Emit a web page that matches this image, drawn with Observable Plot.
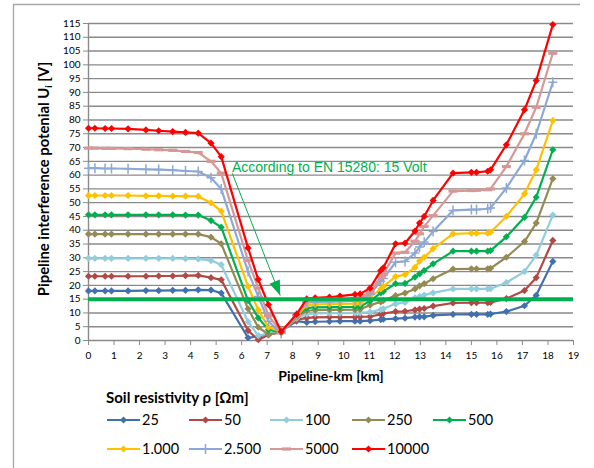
<!DOCTYPE html>
<html><head><meta charset="utf-8">
<script src="https://cdn.jsdelivr.net/npm/d3@7"></script>
<script src="https://cdn.jsdelivr.net/npm/@observablehq/plot@0.6"></script>
<style>body{margin:0;background:#fff}#chart{width:594px;height:468px}</style>
</head><body><div id="chart"></div>
<script>
// Pipeline-km positions (shared by all series)
const km = [0, 0.25, 0.65, 0.9, 1.55, 2.25, 2.75, 3.3, 3.8, 4.3, 4.8, 5.2, 6.25, 6.65, 7.05, 7.55, 8.15, 8.55, 8.88, 9.44, 9.85, 10.44, 10.64, 11.03, 11.45, 11.55, 12.03, 12.4, 12.79, 12.97, 13.15, 13.5, 14.28, 15.0, 15.2, 15.64, 15.75, 16.37, 17.08, 17.54, 18.19];

const rho25    = [18.0,18.0,18.0,18.0,18.0,18.1,18.1,18.2,18.2,18.4,18.3,17.2, 1.0,1.5,2.5,3.5, 7.0, 6.6,6.8,6.9,7.0,7.0,7.0, 7.2,7.6,7.7, 7.9,8.1,8.5,8.6,8.6,9.1, 9.5, 9.5,9.5,9.5,9.6, 10.5,12.6,16.4,28.7];
const rho50    = [23.3,23.3,23.3,23.3,23.3,23.3,23.4,23.4,23.5,23.6,22.8,22.0, 3.6,0.3,2.0,3.3, 7.5, 8.2,8.4,8.5,8.5,8.5,8.6, 8.7,9.5,9.8, 10.5,10.6,11.1,11.4,11.6,12.5, 13.6, 13.7,13.7,13.7,13.8, 15.2,18.1,22.8,36.3];
const rho100   = [29.8,29.8,29.8,29.8,29.8,29.8,29.8,29.8,29.7,29.6,29.0,27.5, 6.8,1.8,2.5,3.0, 8.0, 9.6,9.8,9.9,9.9,10.0,10.0, 10.3,11.2,11.5, 13.3,13.8,15.5,16.0,16.5,17.3, 18.7, 18.7,18.7,18.7,18.8, 21.0,25.0,31.0,45.5];
const rho250   = [38.6,38.6,38.6,38.6,38.6,38.6,38.6,38.6,38.6,38.6,37.5,35.1, 11.5,4.8,2.2,2.8, 8.5, 10.8,11.0,11.1,11.1,11.2,11.3, 12.8,14.0,14.5, 16.3,17.2,18.7,19.8,20.6,22.4, 25.9, 26.0,26.0,26.0,26.2, 30.2,35.9,42.6,58.7];
const rho500   = [45.6,45.6,45.6,45.6,45.6,45.6,45.6,45.6,45.5,45.5,43.5,41.1, 14.5,8.2,3.9,3.0, 8.8, 11.8,12.0,12.1,12.1,12.2,12.3, 14.3,17.3,17.8, 20.6,20.7,23.0,24.2,25.4,27.8, 32.4, 32.4,32.4,32.4,32.6, 37.6,44.7,52.0,69.2];
const rho1000  = [52.6,52.6,52.6,52.6,52.6,52.5,52.5,52.4,52.4,52.3,49.9,46.9, 19.6,11.1,4.8,3.2, 9.0, 12.8,13.1,13.2,13.3,13.4,13.5, 15.6,18.7,19.6, 23.2,23.9,26.5,28.8,30.2,33.3, 38.7, 38.9,38.9,38.9,39.3, 45.0,53.2,61.9,79.8];
const rho2500  = [62.5,62.5,62.4,62.4,62.3,62.1,62.0,61.8,61.5,61.3,59.0,55.0, 25.0,16.0,7.0,2.5, 9.2, 13.8,14.0,14.1,14.2,14.4,14.5, 16.8,21.5,22.5, 28.4,28.7,31.7,33.9,35.7,39.5, 47.2, 47.5,47.5,47.8,48.1, 55.3,65.3,75.0,93.7];
const rho5000  = [69.8,69.8,69.7,69.7,69.6,69.4,69.2,69.0,68.6,68.2,65.0,60.7, 29.0,19.0,9.0,3.2, 9.3, 14.3,14.6,14.8,15.0,15.3,15.5, 17.5,23.0,24.0, 31.7,32.0,36.0,38.7,41.4,45.3, 54.2, 54.4,54.5,54.7,55.0, 63.1,75.0,84.6,104.2];
const rho10000 = [77.0,77.0,76.9,76.9,76.8,76.4,76.1,75.8,75.5,75.2,71.6,66.7, 33.6,22.1,13.0,3.2, 9.5, 15.1,15.5,15.7,16.1,16.7,16.9, 19.0,25.4,26.4, 35.1,35.3,39.7,42.6,45.0,50.8, 60.7, 61.0,61.0,61.4,61.9, 71.0,83.7,94.3,114.6];

const seriesNames  = ["25","50","100","250","500","1.000","2.500","5000","10000"];
const seriesColors = ["#4170B0","#B04845","#92CDDD","#948A54","#00B050","#FFC000","#8EA8D6","#D69896","#FF0000"];
const seriesMarker = ["diamond","diamond","diamond","diamond","diamond","diamond","plus","dash","diamond"];
const seriesValues = [rho25, rho50, rho100, rho250, rho500, rho1000, rho2500, rho5000, rho10000];

const yTicks = d3.range(0, 116, 5);
const xTicks = d3.range(0, 20, 1);
const limitVolt = [15];
const noteText = [{x: 5.62, y: 62.7, label: "According to EN 15280: 15 Volt"}];
const noteArrow = [{x1: 5.63, y1: 60.7, x2: 7.51, y2: 16.3}];

const rows = seriesValues.flatMap((vals, j) => vals.map((v, i) => ({km: km[i], v, s: seriesNames[j]})));

const diamondSym = {draw(ctx){const s=3.6;ctx.moveTo(0,-s);ctx.lineTo(s,0);ctx.lineTo(0,s);ctx.lineTo(-s,0);ctx.closePath();}};
const plusSym = {draw(ctx){ctx.moveTo(-4.5,0);ctx.lineTo(4.5,0);ctx.moveTo(0,-5);ctx.lineTo(0,5);}};
const dashSym = {draw(ctx){ctx.rect(-4.5,-1.6,9,3.2);}};
const tipSym = {draw(ctx){ctx.moveTo(0,0);ctx.lineTo(-5.5,-15);ctx.lineTo(5.5,-15);ctx.closePath();}};

const grey = "#8a8a8a";
const marks = [
  Plot.ruleY(yTicks.filter(d => d > 0), {stroke: grey, strokeWidth: 1.4}),
  Plot.ruleY([0], {stroke: grey, strokeWidth: 1.4}),
  Plot.ruleX([0], {stroke: grey, strokeWidth: 1.4}),
  Plot.axisY(yTicks, {tickSize: 5, tickPadding: 3, stroke: grey, fill: "#000", fontSize: 10, label: null}),
  Plot.axisX(xTicks, {tickSize: 5, tickPadding: 6, stroke: grey, fill: "#000", fontSize: 10, label: null}),
];
seriesNames.forEach((name, j) => {
  const data = rows.filter(r => r.s === name);
  marks.push(Plot.line(data, {x: "km", y: "v", stroke: seriesColors[j], strokeWidth: 2.2}));
  const m = seriesMarker[j];
  if (m === "plus") marks.push(Plot.dot(data, {x: "km", y: "v", symbol: plusSym, stroke: seriesColors[j], strokeWidth: 1.5, r: 4}));
  else if (m === "dash") marks.push(Plot.dot(data, {x: "km", y: "v", symbol: dashSym, fill: seriesColors[j], stroke: "none", r: 4}));
  else marks.push(Plot.dot(data, {x: "km", y: "v", symbol: diamondSym, fill: seriesColors[j], stroke: "none", r: 4}));
});
marks.push(
  Plot.ruleY(limitVolt, {stroke: "#00B050", strokeWidth: 4}),
  Plot.link(noteArrow, {x1: "x1", y1: "y1", x2: "x2", y2: "y2", stroke: "#00B050", strokeWidth: 1}),
  Plot.dot(noteArrow, {x: "x2", y: "y2", symbol: tipSym, fill: "#00B050", stroke: "none", r: 4, rotate: -21.5}),
  Plot.text(noteText, {x: "x", y: "y", text: "label", textAnchor: "start", fill: "#00B050", fontSize: 14, fontFamily: "Liberation Sans"})
);

const chart = Plot.plot({
  width: 594, height: 468,
  marginLeft: 88, marginRight: 21, marginTop: 23, marginBottom: 128,
  style: {fontFamily: "Lato", fontSize: "10px", background: "#fff"},
  x: {domain: [0, 19], label: null},
  y: {domain: [0, 115], label: null},
  marks
});
document.getElementById("chart").appendChild(chart);

// Decorations: frame, axis titles, legend
const svg = d3.select(chart);
const deco = svg.append("g").attr("text-anchor", "start");
deco.append("path").attr("d", "M13.5,468 V4.5 H580").attr("fill", "none").attr("stroke", "#a6a6a6").attr("stroke-width", 1.3);
const yt = deco.append("text").attr("transform", "translate(49,179) rotate(-90)").attr("text-anchor", "middle")
  .attr("font-family", "Lato").attr("font-weight", "bold").attr("font-size", 14.8).attr("fill", "#000");
yt.append("tspan").text("Pipeline interference potenial U");
yt.append("tspan").attr("font-size", 9.5).attr("dy", 3).text("i");
yt.append("tspan").attr("dy", -3).text(" [V]");
deco.append("text").attr("x", 331).attr("y", 381).attr("text-anchor", "middle")
  .attr("font-family", "Lato").attr("font-weight", "bold").attr("font-size", 14).attr("fill", "#000").text("Pipeline-km [km]");
deco.append("text").attr("x", 106).attr("y", 403).attr("text-anchor", "start")
  .attr("font-family", "Lato").attr("font-weight", "bold").attr("font-size", 15).attr("fill", "#000").text("Soil resistivity ρ [Ωm]");
const legX = [107, 189, 270, 352, 433];
const legY = [420, 449];
const symFor = {diamond: diamondSym, plus: plusSym, dash: dashSym};
seriesNames.forEach((name, j) => {
  const col = j % 5, row = Math.floor(j / 5);
  const x0 = legX[col], y0 = legY[row];
  const g = deco.append("g").attr("transform", `translate(${x0},${y0})`);
  g.append("line").attr("x1", 0).attr("x2", 33).attr("y1", 0).attr("y2", 0).attr("stroke", seriesColors[j]).attr("stroke-width", 2.2);
  const p = d3.path(); symFor[seriesMarker[j]].draw(p);
  const sp = g.append("path").attr("d", p.toString()).attr("transform", "translate(16.5,0)");
  if (seriesMarker[j] === "plus") sp.attr("fill", "none").attr("stroke", seriesColors[j]).attr("stroke-width", 1.5);
  else sp.attr("fill", seriesColors[j]);
  g.append("text").attr("x", 35).attr("y", 5).attr("text-anchor", "start").attr("font-family", "Lato").attr("font-size", 14.5).attr("fill", "#000").text(name);
});
</script></body></html>
